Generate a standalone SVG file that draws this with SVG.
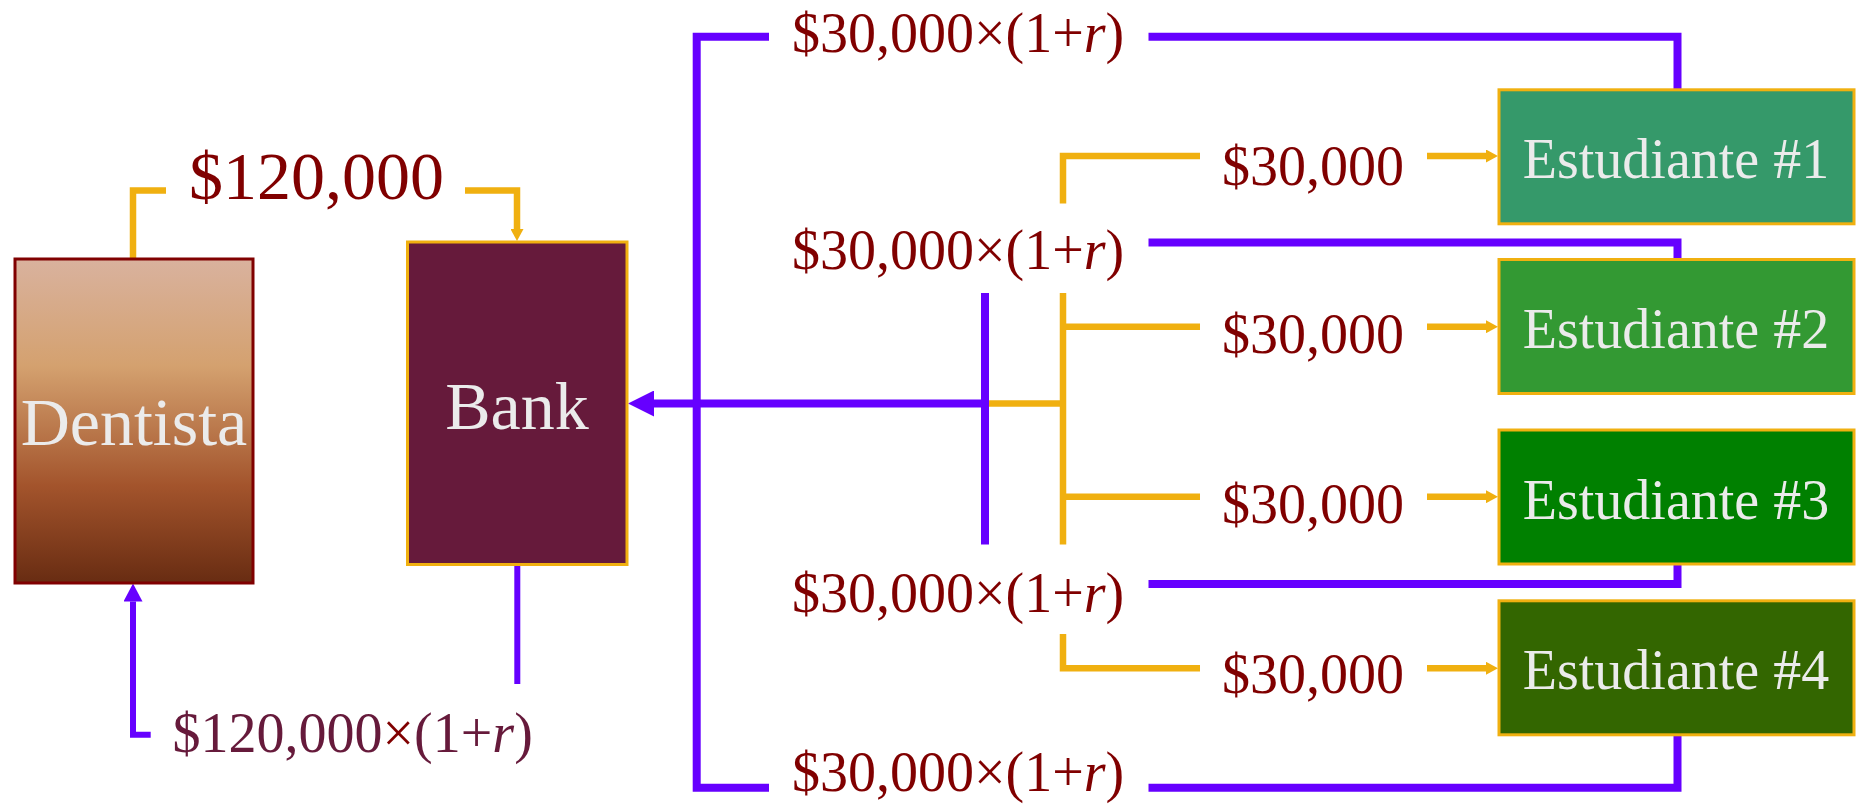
<svg xmlns="http://www.w3.org/2000/svg" width="1857" height="804" viewBox="0 0 1857 804">
  <style>
    .lbl { font-family: "Liberation Serif", "Times New Roman", serif; fill: #800000; }
    .amt { font-size: 56px; }
    .big { font-size: 68px; }
    .node-text { font-family: "Liberation Serif", "Times New Roman", serif; fill: #EBEBEB; text-anchor: middle; }
    .stud { stroke: #F0B010; stroke-width: 3; }
    .pay { fill: none; stroke: #6600FF; stroke-width: 8; stroke-linejoin: miter; }
    .pay-thin { fill: none; stroke: #6600FF; stroke-width: 6; stroke-linejoin: miter; }
    .loan { fill: none; stroke: #F0B010; stroke-width: 6.5; stroke-linejoin: miter; }
  </style>
  <defs>
    <linearGradient id="desert" x1="0" y1="0" x2="0" y2="1">
      <stop offset="0" stop-color="#D9B29E"/>
      <stop offset="0.33" stop-color="#D4A16F"/>
      <stop offset="0.7" stop-color="#A3542C"/>
      <stop offset="1" stop-color="#682C12"/>
    </linearGradient>
    <marker id="arrowPayL" markerUnits="userSpaceOnUse" viewBox="0 0 26 26" markerWidth="26" markerHeight="26" refX="0" refY="13" orient="auto">
      <path d="M0,0 L26,13 L0,26 Z" fill="#6600FF"/>
    </marker>
    <marker id="arrowPayS" markerUnits="userSpaceOnUse" viewBox="0 0 18 19" markerWidth="18" markerHeight="19" refX="0" refY="9.5" orient="auto">
      <path d="M0,0 L18,9.5 L0,19 Z" fill="#6600FF"/>
    </marker>
    <marker id="arrowLoan" markerUnits="userSpaceOnUse" viewBox="0 0 12 13" markerWidth="12" markerHeight="13" refX="0" refY="6.5" orient="auto">
      <path d="M0,0 L12,6.5 L0,13 Z" fill="#F0B010"/>
    </marker>
  </defs>

  <rect width="1857" height="804" fill="#FFFFFF"/>

  <!-- connectors -->
  <g id="connectors">
    <!-- loan from dentist to bank -->
    <path class="loan" d="M133,258 V190.5 H166"/>
    <path class="loan" d="M465,190.5 H517 V229" marker-end="url(#arrowLoan)"/>

    <!-- bank lends to the students -->
    <path class="loan" d="M989,403.5 H1063"/>
    <path class="loan" d="M1063,293 V544.5"/>
    <path class="loan" d="M1063,326.7 H1200"/>
    <path class="loan" d="M1063,496.7 H1200"/>
    <path class="loan" d="M1063,203.5 V156 H1200"/>
    <path class="loan" d="M1063,634 V668.3 H1200"/>
    <path class="loan" d="M1427,156 H1486" marker-end="url(#arrowLoan)"/>
    <path class="loan" d="M1427,326.7 H1486" marker-end="url(#arrowLoan)"/>
    <path class="loan" d="M1427,496.7 H1486" marker-end="url(#arrowLoan)"/>
    <path class="loan" d="M1427,668.3 H1486" marker-end="url(#arrowLoan)"/>

    <!-- repayments from the students -->
    <path class="pay" d="M1677.5,89 V36.7 H1148.5"/>
    <path class="pay" d="M769,36.7 H696.7 V787.7 H769"/>
    <path class="pay" d="M1148.5,787.7 H1677.5 V735"/>
    <path class="pay" d="M1677.5,259 V242.5 H1148.5"/>
    <path class="pay" d="M1677.5,563 V584 H1148.5"/>
    <path class="pay" d="M985,293 V544.5"/>
    <path class="pay" d="M985,403.5 H654" marker-end="url(#arrowPayL)"/>

    <!-- bank repays the dentist -->
    <path class="pay-thin" d="M517.3,565 V684"/>
    <path class="pay-thin" d="M150.7,734.7 H133 V601.5" marker-end="url(#arrowPayS)"/>
  </g>

  <!-- flow labels -->
  <g id="labels">
    <text class="lbl big" x="189" y="199">$120,000</text>
    <text class="lbl amt" x="172.5" y="751.7" style="fill:#661A3B">$120,000<tspan style="fill:#800000">×</tspan>(1+<tspan font-style="italic">r</tspan>)</text>

    <text class="lbl amt" x="792" y="51.7">$30,000×(1+<tspan font-style="italic">r</tspan>)</text>
    <text class="lbl amt" x="792" y="269.3">$30,000×(1+<tspan font-style="italic">r</tspan>)</text>
    <text class="lbl amt" x="792" y="611.7">$30,000×(1+<tspan font-style="italic">r</tspan>)</text>
    <text class="lbl amt" x="792" y="791">$30,000×(1+<tspan font-style="italic">r</tspan>)</text>

    <text class="lbl amt" x="1222" y="184.5">$30,000</text>
    <text class="lbl amt" x="1222" y="352.5">$30,000</text>
    <text class="lbl amt" x="1222" y="522.5">$30,000</text>
    <text class="lbl amt" x="1222" y="693.3">$30,000</text>
  </g>

  <!-- nodes -->
  <g id="dentista">
    <rect x="15" y="259" width="238" height="324" fill="url(#desert)" stroke="#800000" stroke-width="3"/>
    <text class="node-text" x="134" y="445" font-size="68">Dentista</text>
  </g>

  <g id="bank">
    <rect x="407.5" y="242" width="219.5" height="322.5" fill="#661A3B" stroke="#F0B010" stroke-width="3"/>
    <text class="node-text" x="517" y="429" font-size="68">Bank</text>
  </g>

  <g id="estudiante-1">
    <rect class="stud" x="1499" y="89.8" width="355" height="134" fill="#35996A"/>
    <text class="node-text" x="1676" y="178.3" font-size="56">Estudiante #1</text>
  </g>

  <g id="estudiante-2">
    <rect class="stud" x="1499" y="259.5" width="355" height="134" fill="#339933"/>
    <text class="node-text" x="1676" y="348.3" font-size="56">Estudiante #2</text>
  </g>

  <g id="estudiante-3">
    <rect class="stud" x="1499" y="430" width="355" height="134" fill="#008000"/>
    <text class="node-text" x="1676" y="518.5" font-size="56">Estudiante #3</text>
  </g>

  <g id="estudiante-4">
    <rect class="stud" x="1499" y="600.8" width="355" height="134" fill="#336600"/>
    <text class="node-text" x="1676" y="689.3" font-size="56">Estudiante #4</text>
  </g>
</svg>
